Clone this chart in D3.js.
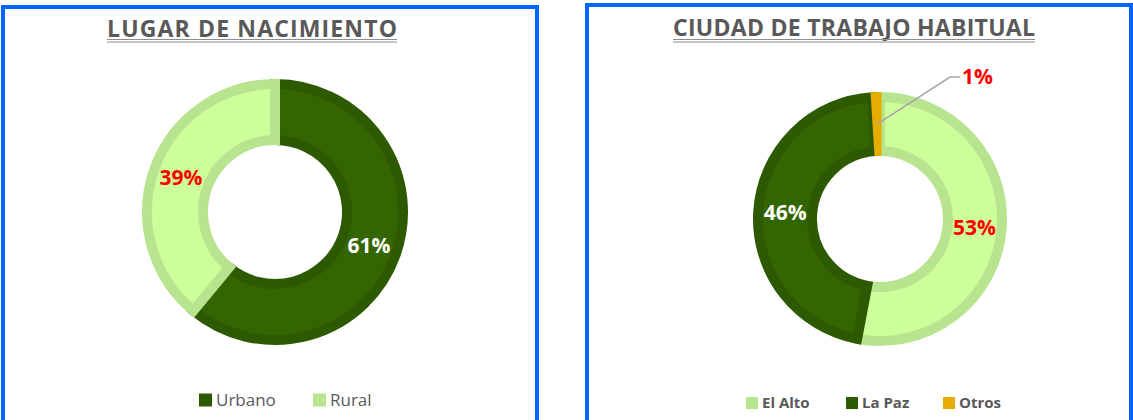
<!DOCTYPE html>
<html>
<head>
<meta charset="utf-8">
<script src="https://cdn.jsdelivr.net/npm/d3@7"></script>
<style>
  html, body { margin: 0; padding: 0; background: #fff; }
  svg { display: block; font-family: "Open Sans", "Noto Sans", sans-serif; }
</style>
</head>
<body>
<svg id="chart" width="1133" height="420"></svg>
<script>
// ---- data ----
const lugarCategories = ["Urbano", "Rural"];
const lugarValues = [61, 39];
const lugarLabels = ["61%", "39%"];

const ciudadCategories = ["El Alto", "La Paz", "Otros"];
const ciudadValues = [53, 46, 1];
const ciudadLabels = ["53%", "46%", "1%"];

// ---- styles ----
const FILL = { "Urbano": "#336600", "Rural": "#CCFF99", "El Alto": "#CCFF99", "La Paz": "#336600", "Otros": "#E6AC00" };
const EDGE = { "Urbano": "#2D5A00", "Rural": "#B8E48F", "El Alto": "#B8E48F", "La Paz": "#2D5A00", "Otros": "#E6AC00" };
const LABEL_COLOR = { "Urbano": "#FFFFFF", "Rural": "#FF0000", "El Alto": "#FF0000", "La Paz": "#FFFFFF", "Otros": "#FF0000" };

const svg = d3.select("#chart");

const panels = [
    {
        title: "LUGAR DE NACIMIENTO", titleX: 252, titleLen: 290, titleY: 37,
        box: { x: 3, y: 7, w: 534, h: 416 },
        cx: 275, cy: 212, outer: 133, inner: 67,
        categories: lugarCategories, values: lugarValues, labels: lugarLabels,
        legend: { y: 400, bold: false, size: 17, sq: 13, items: [199, 313] }
    },
    {
        title: "CIUDAD DE TRABAJO HABITUAL", titleX: 854, titleLen: 362, titleY: 36,
        box: { x: 587, y: 5, w: 544, h: 418 },
        cx: 880, cy: 219, outer: 127, inner: 63,
        categories: ciudadCategories, values: ciudadValues, labels: ciudadLabels,
        legend: { y: 403, bold: true, size: 15, sq: 12, items: [746, 846, 943] }
    }
];

panels.forEach(p => {
    // frame
    svg.append("rect")
        .attr("x", p.box.x).attr("y", p.box.y)
        .attr("width", p.box.w).attr("height", p.box.h)
        .attr("fill", "#fff")
        .attr("stroke", "#0066FF").attr("stroke-width", 4);

    // title with double underline
    svg.append("text")
        .attr("x", p.titleX).attr("y", p.titleY)
        .attr("text-anchor", "middle")
        .attr("font-size", 23).attr("font-weight", 700)
        .attr("fill", "#595959")
        .attr("textLength", p.titleLen).attr("lengthAdjust", "spacing")
        .text(p.title);
    [39.5, 42].forEach(yy => {
        svg.append("line")
            .attr("x1", p.titleX - p.titleLen / 2).attr("x2", p.titleX + p.titleLen / 2)
            .attr("y1", yy).attr("y2", yy)
            .attr("stroke", "#8c8c8c").attr("stroke-width", 1.2);
    });

    // donut
    const data = p.categories.map((c, i) => ({ cat: c, value: p.values[i], label: p.labels[i] }));
    const pie = d3.pie().sort(null).value(d => d.value);
    const arcs = pie(data);
    const sw = 10;
    const arcInset = d3.arc().innerRadius(p.inner + sw / 2).outerRadius(p.outer - sw / 2);
    const arcFull = d3.arc().innerRadius(p.inner + 1.5).outerRadius(p.outer - 1.5);
    const labelArc = d3.arc().innerRadius((p.inner + p.outer) / 2).outerRadius((p.inner + p.outer) / 2);
    const hasEdge = d => EDGE[d.data.cat] !== FILL[d.data.cat];

    const g = svg.append("g").attr("transform", `translate(${p.cx},${p.cy})`);
    g.selectAll("path.slice")
        .data(arcs)
        .join("path")
        .attr("class", "slice")
        .attr("d", d => hasEdge(d) ? arcInset(d) : arcFull(d))
        .attr("fill", d => FILL[d.data.cat])
        .attr("stroke", d => EDGE[d.data.cat])
        .attr("stroke-width", d => hasEdge(d) ? sw : 3)
        .attr("stroke-linejoin", "miter");

    arcs.forEach(a => {
        if (a.data.cat === "Otros") {
            // leader line for the small slice
            const [mx, my] = d3.arc().innerRadius(p.outer - 32).outerRadius(p.outer - 32).centroid(a);
            const ex = 950 - p.cx, ey = 77 - p.cy;
            g.append("polyline")
                .attr("points", `${mx},${my} ${ex},${ey} ${ex + 10},${ey}`)
                .attr("fill", "none").attr("stroke", "#A6A6A6").attr("stroke-width", 1.5);
            g.append("text")
                .attr("x", ex + 12).attr("y", ey)
                .attr("dy", "0.35em")
                .attr("font-size", 21).attr("font-weight", 700)
                .attr("fill", LABEL_COLOR[a.data.cat])
                .text(a.data.label);
        } else {
            const [lx, ly] = labelArc.centroid(a);
            g.append("text")
                .attr("x", lx).attr("y", ly)
                .attr("dy", "0.35em")
                .attr("text-anchor", "middle")
                .attr("font-size", 21).attr("font-weight", 700)
                .attr("fill", LABEL_COLOR[a.data.cat])
                .text(a.data.label);
        }
    });

    // legend
    const lg = svg.append("g");
    p.categories.forEach((c, i) => {
        const x = p.legend.items[i];
        lg.append("rect")
            .attr("x", x).attr("y", p.legend.y - p.legend.sq / 2)
            .attr("width", p.legend.sq).attr("height", p.legend.sq)
            .attr("fill", EDGE[c]);
        lg.append("text")
            .attr("x", x + p.legend.sq + 4).attr("y", p.legend.y)
            .attr("dy", "0.35em")
            .attr("font-size", p.legend.size)
            .attr("font-weight", p.legend.bold ? 700 : 400)
            .attr("fill", "#595959")
            .text(c);
    });
});
</script>
</body>
</html>
